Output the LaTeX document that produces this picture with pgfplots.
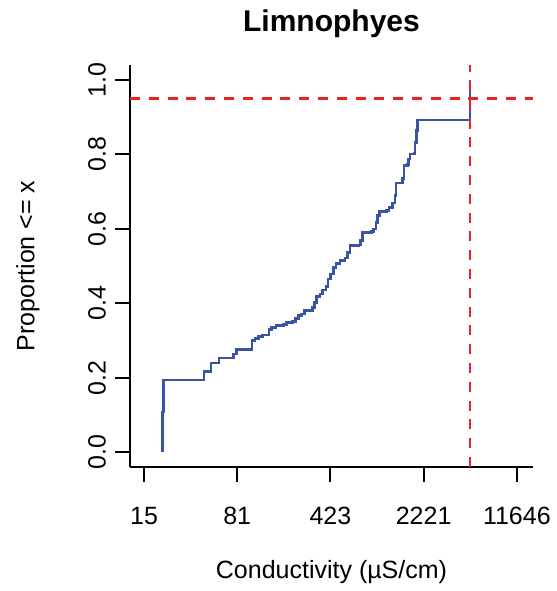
\documentclass[border=0pt]{standalone}
\usepackage{fontspec}
\setmainfont{Liberation Sans}
\usepackage{pgfplots}
\pgfplotsset{compat=1.18}
\definecolor{ecdfblue}{HTML}{3B53A4}
\definecolor{cutred}{HTML}{ED2024}
\begin{document}
\begin{tikzpicture}
\path[use as bounding box] (0,0) rectangle (278.5pt,295.5pt);
\begin{axis}[
  at={(65pt,62pt)}, anchor=south west,
  scale only axis, width=201.5pt, height=201pt,
  xmode=log, xmin=11.99, xmax=15524, ymin=-0.04, ymax=1.04,
  axis x line=bottom, axis y line=left,
  axis line style={-, line width=1pt, black},
  tick align=outside, major tick length=7.5pt,
  tick style={black, line width=1pt},
  xminorticks=false, yminorticks=false,
  xtick={15.39,80.7,423.3,2220.5,11646},
  xticklabels={15,81,423,2221,11646},
  ytick={0,0.2,0.4,0.6,0.8,1.0},
  ticklabel style={font=\fontsize{12.5}{14}\selectfont},
  xticklabel style={yshift=-9pt},
  yticklabel style={xshift=-1pt, rotate=90, anchor=south},
  title={Limnophyes},
  title style={at={(0.5,1.0529)}, anchor=base, font=\fontsize{15}{17}\selectfont\bfseries},
  xlabel={Conductivity (µS/cm)},
  xlabel style={at={(0.5,-0.2612)}, anchor=center, font=\fontsize{12.5}{14}\selectfont},
  ylabel={Proportion <= x},
  ylabel style={at={(-0.2531,0.5)}, anchor=center, font=\fontsize{12.5}{14}\selectfont},
  /pgf/number format/.cd, fixed, fixed zerofill, precision=1, assume math mode=true
]
\addplot[const plot, ecdfblue, line width=1.3pt] coordinates {
(21.45,0) (21.45,0.1073) (21.71,0.1941) (44.73,0.2165) (50.65,0.2397) (58.40,0.2532)
(75.34,0.2639) (79.96,0.2764) (105.0,0.2997) (110.7,0.3060) (117.5,0.3104) (126.9,0.3149)
(142.1,0.3292) (148.9,0.3346) (160.9,0.3400) (183.3,0.3426) (194.5,0.3489) (216.3,0.3516)
(228.2,0.3597) (239.3,0.3668) (254.0,0.3713) (266.3,0.3802) (308.7,0.3892) (318.1,0.4026)
(331.6,0.4187) (351.9,0.4250) (369.0,0.4357) (391.4,0.4456) (405.6,0.4652) (425.3,0.4787)
(446.0,0.4966) (467.7,0.5073) (502.0,0.5145) (548.6,0.5216) (571.8,0.5368) (599.6,0.5547)
(695.6,0.5565) (725.1,0.5681) (751.4,0.5905) (881.7,0.5923) (908.1,0.5995) (952.2,0.6174)
(975.0,0.6353) (1010.4,0.6469) (1151,0.6487) (1200,0.6577) (1281,0.6693) (1335,0.6890)
(1359,0.7230) (1530,0.7355) (1566,0.7695) (1662,0.7731) (1702,0.7874) (1743,0.8008)
(1871,0.8026) (1905,0.8321) (1962,0.8634) (1998,0.8921) (5066,1.0)
};
\addplot[cutred, line width=1.3pt, dash pattern=on 5pt off 4.4pt] coordinates {(11.99,0.95) (15524,0.95)};
\addplot[cutred, line width=1.3pt, dash pattern=on 5pt off 4.4pt] coordinates {(5066,-0.04) (5066,1.04)};
\end{axis}
\end{tikzpicture}
\end{document}
